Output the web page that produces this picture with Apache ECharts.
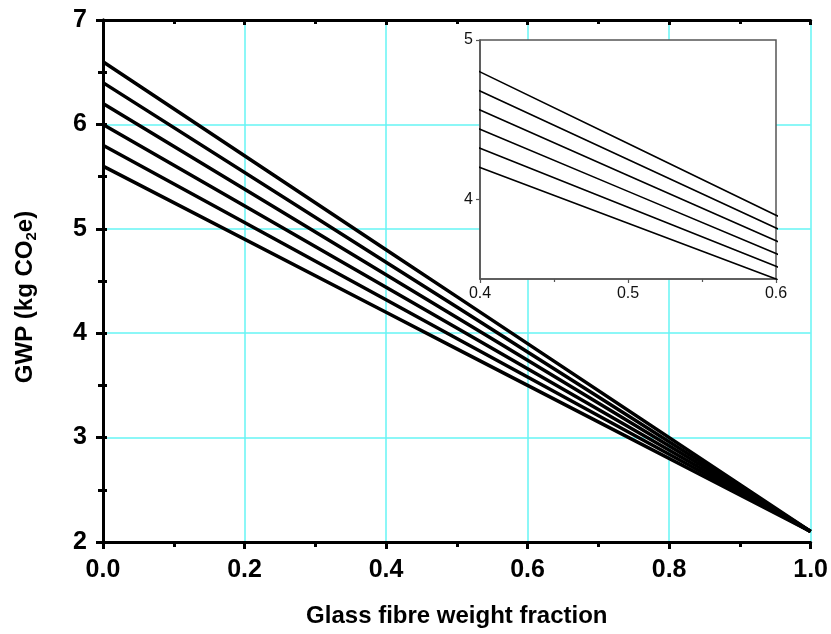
<!DOCTYPE html>
<html>
<head>
<meta charset="utf-8">
<script src="https://cdn.jsdelivr.net/npm/echarts@6/dist/echarts.min.js"></script>
<style>
  html, body { margin: 0; padding: 0; background: #fff; }
  #chart { width: 831px; height: 634px; }
</style>
</head>
<body>
<div id="chart"></div>
<script>
// Glass fibre weight fraction (x) sample points
const fractions = [0, 0.4, 0.5, 0.6, 1.0];

// GWP (kg CO2e) for each composite line, from highest to lowest
const gwpA = [6.6, 4.80, 4.35, 3.90, 2.1];
const gwpB = [6.4, 4.68, 4.25, 3.82, 2.1];
const gwpC = [6.2, 4.56, 4.15, 3.74, 2.1];
const gwpD = [6.0, 4.44, 4.05, 3.66, 2.1];
const gwpE = [5.8, 4.32, 3.95, 3.58, 2.1];
const gwpF = [5.6, 4.20, 3.85, 3.50, 2.1];

const allLines = [gwpA, gwpB, gwpC, gwpD, gwpE, gwpF];

// Axis tick labels
const mainXTicks = [0, 0.2, 0.4, 0.6, 0.8, 1.0];
const mainYTicks = [2, 3, 4, 5, 6, 7];
const insetXTicks = [0.4, 0.5, 0.6];
const insetYTicks = [4, 5];

const FONT = '"Liberation Sans", Arial, sans-serif';

function pairs(ys) {
  return fractions.map((x, i) => [x, ys[i]]);
}

const mainSeries = allLines.map(ys => ({
  type: 'line',
  xAxisIndex: 0,
  yAxisIndex: 0,
  data: pairs(ys),
  symbol: 'none',
  lineStyle: { color: '#000', width: 3.5 },
  z: 3,
  silent: true
}));

const insetSeries = allLines.map(ys => ({
  type: 'line',
  xAxisIndex: 2,
  yAxisIndex: 2,
  data: pairs(ys),
  symbol: 'none',
  clip: true,
  lineStyle: { color: '#000', width: 1.6 },
  z: 12,
  zlevel: 1,
  silent: true
}));

const chart = echarts.init(document.getElementById('chart'));

const boldAxisLine = { show: true, lineStyle: { color: '#000', width: 3 } };

chart.setOption({
  animation: false,
  backgroundColor: '#fff',
  grid: [
    { left: 103, right: 20, top: 20, bottom: 92 },
    { left: 480, top: 40, width: 296, height: 239, show: true,
      backgroundColor: '#fff', borderColor: '#555', borderWidth: 1.5, z: 10, zlevel: 1 }
  ],
  xAxis: [
    {
      type: 'value', gridIndex: 0, min: 0, max: 1, interval: 0.2,
      axisLine: boldAxisLine,
      axisTick: { show: true, inside: false, length: 7, lineStyle: { color: '#000', width: 3 } },
      minorTick: { show: true, splitNumber: 2, length: 5, lineStyle: { color: '#000', width: 3 } },
      splitLine: { show: true, lineStyle: { color: '#66f5f5', width: 1.5 } },
      axisLabel: {
        color: '#000', fontFamily: FONT, fontWeight: 'bold', fontSize: 25, margin: 16,
        customValues: mainXTicks,
        formatter: v => v.toFixed(1)
      },
      name: 'Glass fibre weight fraction',
      nameLocation: 'middle',
      nameGap: 62,
      nameTextStyle: { color: '#000', fontFamily: FONT, fontWeight: 'bold', fontSize: 24 }
    },
    {
      type: 'value', gridIndex: 0, position: 'top', min: 0, max: 1, interval: 0.2,
      axisLine: boldAxisLine,
      axisTick: { show: true, inside: true, length: 5, lineStyle: { color: '#000', width: 3 } },
      minorTick: { show: true, splitNumber: 2, length: 4, lineStyle: { color: '#000', width: 3 } },
      splitLine: { show: false },
      axisLabel: { show: false }
    },
    {
      type: 'value', gridIndex: 1, min: 0.4, max: 0.6, interval: 0.1,
      axisLine: { show: true, lineStyle: { color: '#555', width: 1.5 } },
      axisTick: { show: true, inside: false, length: 4, lineStyle: { color: '#555', width: 1.2 } },
      minorTick: { show: true, splitNumber: 2, length: 3, lineStyle: { color: '#555', width: 1.2 } },
      splitLine: { show: false },
      axisLabel: {
        color: '#111', fontFamily: FONT, fontSize: 16, margin: 7,
        customValues: insetXTicks,
        formatter: v => v.toFixed(1)
      },
      z: 11, zlevel: 1
    }
  ],
  yAxis: [
    {
      type: 'value', gridIndex: 0, min: 2, max: 7, interval: 1,
      axisLine: boldAxisLine,
      axisTick: { show: true, inside: false, length: 7, lineStyle: { color: '#000', width: 3 } },
      minorTick: { show: true, splitNumber: 2, length: 5, lineStyle: { color: '#000', width: 3 } },
      splitLine: { show: true, lineStyle: { color: '#66f5f5', width: 1.5 } },
      axisLabel: {
        color: '#000', fontFamily: FONT, fontWeight: 'bold', fontSize: 25, margin: 16,
        customValues: mainYTicks
      },
      name: '{a|GWP (kg CO}{s|2}{a|e)}',
      nameLocation: 'middle',
      nameRotate: 90,
      nameGap: 64,
      nameTextStyle: {
        color: '#000', fontFamily: FONT, fontWeight: 'bold', fontSize: 24,
        padding: [0, 32, 0, 0],
        rich: {
          a: { color: '#000', fontFamily: FONT, fontWeight: 'bold', fontSize: 24, lineHeight: 28, verticalAlign: 'middle' },
          s: { color: '#000', fontFamily: FONT, fontWeight: 'bold', fontSize: 15, lineHeight: 28, verticalAlign: 'bottom', padding: [12, 0, 0, 0] }
        }
      }
    },
    {
      type: 'value', gridIndex: 0, position: 'right', min: 2, max: 7, interval: 1,
      axisLine: boldAxisLine,
      axisTick: { show: true, inside: false, length: 4, lineStyle: { color: '#000', width: 3 } },
      minorTick: { show: true, splitNumber: 2, length: 4, lineStyle: { color: '#000', width: 3 } },
      splitLine: { show: false },
      axisLabel: { show: false }
    },
    {
      type: 'value', gridIndex: 1, min: 3.5, max: 5, interval: 0.5,
      axisLine: { show: true, lineStyle: { color: '#555', width: 1.5 } },
      axisTick: { show: true, inside: false, length: 4, customValues: insetYTicks, lineStyle: { color: '#555', width: 1.2 } },
      splitLine: { show: false },
      axisLabel: {
        color: '#111', fontFamily: FONT, fontSize: 16, margin: 7,
        customValues: insetYTicks
      },
      z: 11, zlevel: 1
    }
  ],
  series: mainSeries.concat(insetSeries)
});
</script>
</body>
</html>
